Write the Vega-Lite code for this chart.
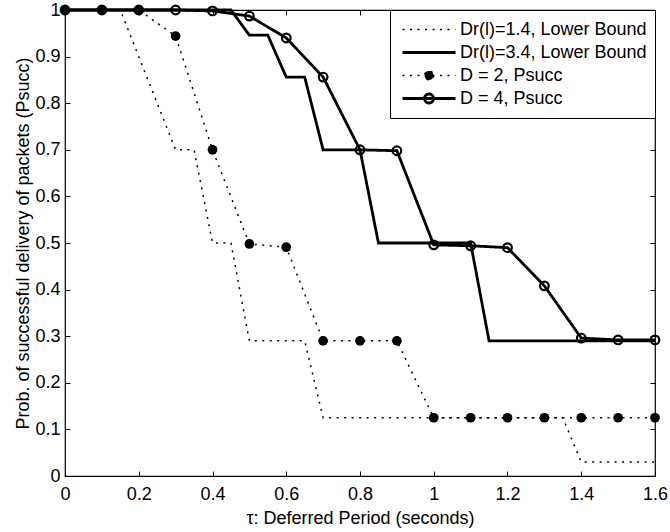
{
  "$schema": "https://vega.github.io/schema/vega-lite/v6.json",
  "width": 590,
  "height": 466,
  "autosize": {"type": "none"},
  "padding": {"left": 65, "top": 10, "right": 15, "bottom": 56},
  "background": "white",
  "datasets": {
    "curves": [
      {"s": "Dr(l)=1.4, Lower Bound", "t": 0, "v": 1},
      {"s": "Dr(l)=1.4, Lower Bound", "t": 0.15, "v": 1},
      {"s": "Dr(l)=1.4, Lower Bound", "t": 0.3, "v": 0.7},
      {"s": "Dr(l)=1.4, Lower Bound", "t": 0.35, "v": 0.7},
      {"s": "Dr(l)=1.4, Lower Bound", "t": 0.4, "v": 0.5},
      {"s": "Dr(l)=1.4, Lower Bound", "t": 0.45, "v": 0.5},
      {"s": "Dr(l)=1.4, Lower Bound", "t": 0.5, "v": 0.29},
      {"s": "Dr(l)=1.4, Lower Bound", "t": 0.65, "v": 0.29},
      {"s": "Dr(l)=1.4, Lower Bound", "t": 0.7, "v": 0.125},
      {"s": "Dr(l)=1.4, Lower Bound", "t": 1.35, "v": 0.125},
      {"s": "Dr(l)=1.4, Lower Bound", "t": 1.4, "v": 0.03},
      {"s": "Dr(l)=1.4, Lower Bound", "t": 1.6, "v": 0.03},
      {"s": "Dr(l)=3.4, Lower Bound", "t": 0, "v": 1},
      {"s": "Dr(l)=3.4, Lower Bound", "t": 0.45, "v": 1},
      {"s": "Dr(l)=3.4, Lower Bound", "t": 0.5, "v": 0.946},
      {"s": "Dr(l)=3.4, Lower Bound", "t": 0.55, "v": 0.946},
      {"s": "Dr(l)=3.4, Lower Bound", "t": 0.6, "v": 0.856},
      {"s": "Dr(l)=3.4, Lower Bound", "t": 0.65, "v": 0.856},
      {"s": "Dr(l)=3.4, Lower Bound", "t": 0.7, "v": 0.7},
      {"s": "Dr(l)=3.4, Lower Bound", "t": 0.8, "v": 0.7},
      {"s": "Dr(l)=3.4, Lower Bound", "t": 0.85, "v": 0.5},
      {"s": "Dr(l)=3.4, Lower Bound", "t": 1.1, "v": 0.5},
      {"s": "Dr(l)=3.4, Lower Bound", "t": 1.15, "v": 0.29},
      {"s": "Dr(l)=3.4, Lower Bound", "t": 1.6, "v": 0.29},
      {"s": "D = 2, Psucc", "t": 0, "v": 1},
      {"s": "D = 2, Psucc", "t": 0.1, "v": 1},
      {"s": "D = 2, Psucc", "t": 0.2, "v": 1},
      {"s": "D = 2, Psucc", "t": 0.3, "v": 0.944},
      {"s": "D = 2, Psucc", "t": 0.4, "v": 0.7},
      {"s": "D = 2, Psucc", "t": 0.5, "v": 0.498},
      {"s": "D = 2, Psucc", "t": 0.6, "v": 0.491},
      {"s": "D = 2, Psucc", "t": 0.7, "v": 0.29},
      {"s": "D = 2, Psucc", "t": 0.8, "v": 0.29},
      {"s": "D = 2, Psucc", "t": 0.9, "v": 0.29},
      {"s": "D = 2, Psucc", "t": 1.0, "v": 0.125},
      {"s": "D = 2, Psucc", "t": 1.1, "v": 0.125},
      {"s": "D = 2, Psucc", "t": 1.2, "v": 0.125},
      {"s": "D = 2, Psucc", "t": 1.3, "v": 0.125},
      {"s": "D = 2, Psucc", "t": 1.4, "v": 0.125},
      {"s": "D = 2, Psucc", "t": 1.5, "v": 0.125},
      {"s": "D = 2, Psucc", "t": 1.6, "v": 0.125},
      {"s": "D = 4, Psucc", "t": 0, "v": 1},
      {"s": "D = 4, Psucc", "t": 0.1, "v": 1},
      {"s": "D = 4, Psucc", "t": 0.2, "v": 1},
      {"s": "D = 4, Psucc", "t": 0.3, "v": 1},
      {"s": "D = 4, Psucc", "t": 0.4, "v": 0.998},
      {"s": "D = 4, Psucc", "t": 0.5, "v": 0.987},
      {"s": "D = 4, Psucc", "t": 0.6, "v": 0.94},
      {"s": "D = 4, Psucc", "t": 0.7, "v": 0.856},
      {"s": "D = 4, Psucc", "t": 0.8, "v": 0.7},
      {"s": "D = 4, Psucc", "t": 0.9, "v": 0.698},
      {"s": "D = 4, Psucc", "t": 1.0, "v": 0.496},
      {"s": "D = 4, Psucc", "t": 1.1, "v": 0.494},
      {"s": "D = 4, Psucc", "t": 1.2, "v": 0.49},
      {"s": "D = 4, Psucc", "t": 1.3, "v": 0.408},
      {"s": "D = 4, Psucc", "t": 1.4, "v": 0.296},
      {"s": "D = 4, Psucc", "t": 1.5, "v": 0.292},
      {"s": "D = 4, Psucc", "t": 1.6, "v": 0.292}
    ]
  },
  "data": {"name": "curves"},
  "resolve": {"axis": {"x": "independent", "y": "independent"}},
  "layer": [
    {
      "transform": [{"filter": {"field": "s", "oneOf": ["Dr(l)=1.4, Lower Bound", "D = 2, Psucc"]}}],
      "mark": {"type": "line", "color": "black", "strokeWidth": 1.5, "clip": false},
      "encoding": {
        "x": {"field": "t", "type": "quantitative",
              "scale": {"domain": [0, 1.6], "nice": false, "zero": false},
              "axis": {"orient": "bottom", "title": "τ: Deferred Period (seconds)", "values": [0, 0.2, 0.4, 0.6, 0.8, 1, 1.2, 1.4, 1.6], "format": "~g", "labelPadding": 14, "titlePadding": 6}},
        "y": {"field": "v", "type": "quantitative",
              "scale": {"domain": [0, 1], "nice": false},
              "axis": {"orient": "left", "title": "Prob. of successful delivery of packets (Psucc)", "values": [0, 0.1, 0.2, 0.3, 0.4, 0.5, 0.6, 0.7, 0.8, 0.9, 1], "format": "~g", "labelPadding": 10, "titlePadding": 2}},
        "strokeDash": {"field": "s", "type": "nominal",
          "scale": {"domain": ["Dr(l)=1.4, Lower Bound", "Dr(l)=3.4, Lower Bound", "D = 2, Psucc", "D = 4, Psucc"],
                    "range": [[2, 5.5], [1, 0], [2, 5.5], [1, 0]]},
          "legend": {
            "title": null, "orient": "top-right", "offset": 0,
            "fillColor": "white", "strokeColor": "black",
            "padding": 8, "symbolOffset": 3, "symbolSize": 2809,
            "symbolStrokeColor": "black", "clipHeight": 23, "rowPadding": 0,
            "labelOffset": 3, "labelFontSize": 18, "labelColor": "black", "labelLimit": 400,
            "encode": {
              "symbols": {
                "update": {
                  "size": {"value": 2809},
                  "shape": {"signal": "(indexof(datum.value, 'Psucc') >= 0 ? 'M-1,0L1,0M0.17,0A0.17,0.17,0,1,1,-0.17,0A0.17,0.17,0,1,1,0.17,0' : 'M-1,0L1,0')"},
                  "fill": {"signal": "(datum.value == 'D = 2, Psucc' ? 'black' : 'transparent')"},
                  "stroke": {"value": "black"},
                  "strokeWidth": {"signal": "((datum.value == 'D = 2, Psucc' || datum.value == 'Dr(l)=1.4, Lower Bound') ? 1.5 : 2.8)"}
                }
              }
            }
          }
        }
      }
    },
    {
      "transform": [{"filter": {"field": "s", "oneOf": ["Dr(l)=3.4, Lower Bound", "D = 4, Psucc"]}}],
      "mark": {"type": "line", "color": "black", "strokeWidth": 2.8, "clip": false},
      "encoding": {
        "x": {"field": "t", "type": "quantitative", "axis": null},
        "y": {"field": "v", "type": "quantitative", "axis": null},
        "strokeDash": {"field": "s", "type": "nominal",
          "scale": {"domain": ["Dr(l)=1.4, Lower Bound", "Dr(l)=3.4, Lower Bound", "D = 2, Psucc", "D = 4, Psucc"],
                    "range": [[2, 5.5], [1, 0], [2, 5.5], [1, 0]]}}
      }
    },
    {
      "transform": [{"filter": {"field": "s", "equal": "D = 4, Psucc"}}],
      "mark": {"type": "point", "shape": "circle", "filled": false, "color": "black", "strokeWidth": 2.2, "size": 75, "opacity": 1, "clip": false},
      "encoding": {
        "x": {"field": "t", "type": "quantitative",
              "axis": {"orient": "top", "labels": false, "title": null, "values": [0, 0.2, 0.4, 0.6, 0.8, 1, 1.2, 1.4, 1.6]}},
        "y": {"field": "v", "type": "quantitative",
              "axis": {"orient": "right", "labels": false, "title": null, "values": [0, 0.1, 0.2, 0.3, 0.4, 0.5, 0.6, 0.7, 0.8, 0.9, 1]}}
      }
    },
    {
      "transform": [{"filter": {"field": "s", "equal": "D = 2, Psucc"}}],
      "mark": {"type": "point", "shape": "circle", "filled": true, "color": "black", "size": 95, "opacity": 1, "clip": false},
      "encoding": {
        "x": {"field": "t", "type": "quantitative", "axis": null},
        "y": {"field": "v", "type": "quantitative", "axis": null}
      }
    }
  ],
  "config": {
    "font": "Liberation Sans",
    "view": {"stroke": "black", "strokeWidth": 1.2},
    "axis": {
      "labelFontSize": 18, "titleFontSize": 18, "labelColor": "black", "titleColor": "black",
      "titleFontWeight": "normal", "tickColor": "black", "tickSize": -5, "tickWidth": 1,
      "grid": false, "domain": false, "labelFlush": false, "labelOverlap": false
    }
  }
}
